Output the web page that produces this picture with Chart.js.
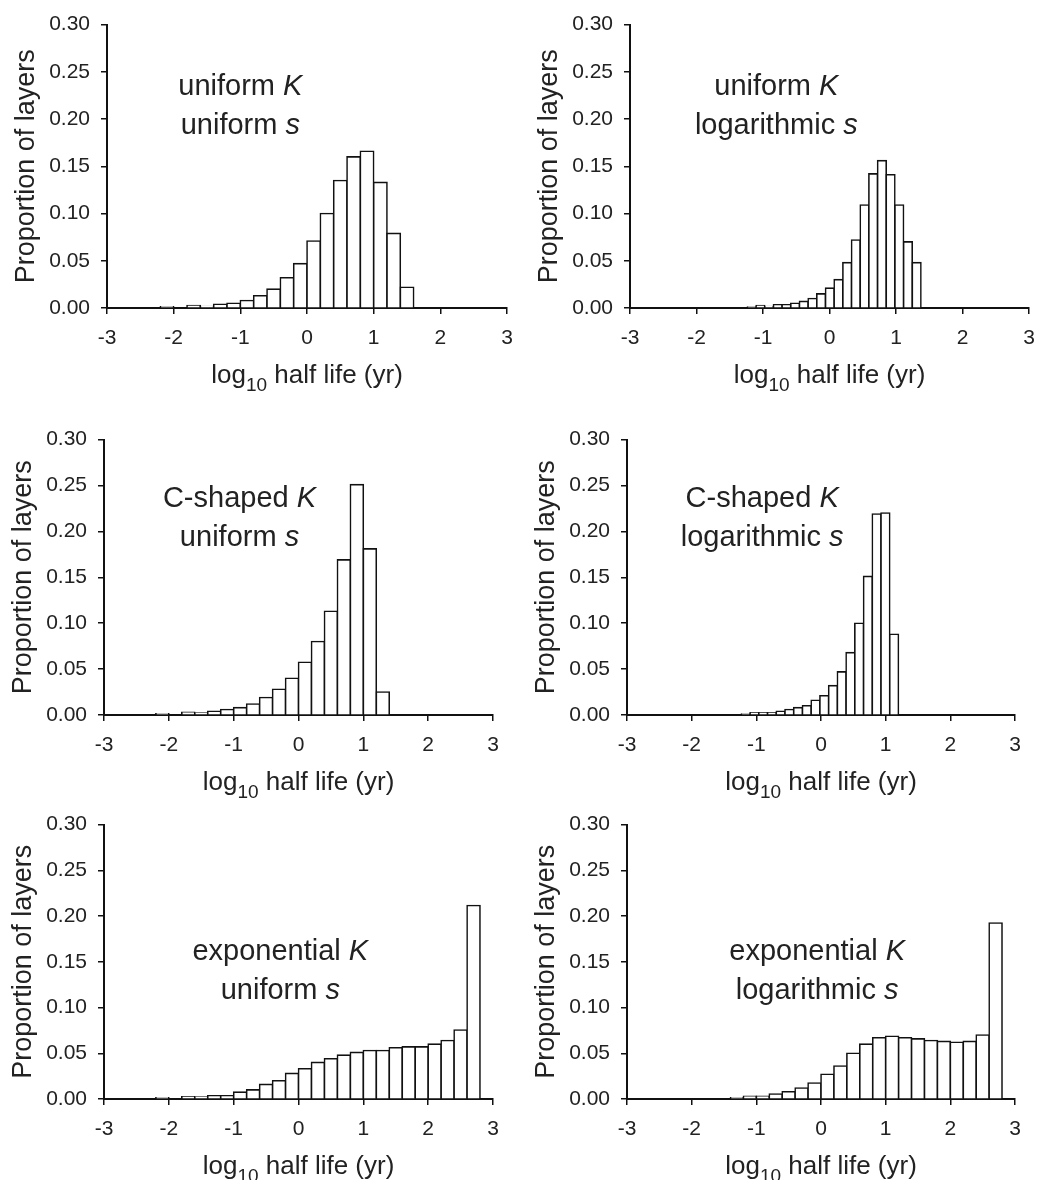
<!DOCTYPE html>
<html>
<head>
<meta charset="utf-8">
<script src="https://cdn.jsdelivr.net/npm/chart.js@4.4.1/dist/chart.umd.min.js"></script>
<style>
  html, body { margin: 0; padding: 0; background: #fff; overflow: hidden; }
  #fig { position: relative; width: 1037px; height: 1180px; overflow: hidden; background: #fff; }
  #fig canvas { position: absolute; }
</style>
</head>
<body>
<div id="fig"></div>
<script>
// ── Data ─────────────────────────────────────────────────────────────────────

// axis ticks shared by all six panels
const X_TICKS = [-3, -2, -1, 0, 1, 2, 3];
const Y_TICKS = [0, 0.05, 0.10, 0.15, 0.20, 0.25, 0.30];

// bin centres, log10 half life (yr)
const binsUniformK   = [-2.1, -1.9, -1.7, -1.5, -1.3, -1.1, -0.9, -0.7, -0.5, -0.3,
                        -0.1, 0.1, 0.3, 0.5, 0.7, 0.9, 1.1, 1.3, 1.5];
const binsUniformKLog = [-1.170, -1.039, -0.909, -0.778, -0.648, -0.517, -0.387, -0.256,
                         -0.126, 0.005, 0.135, 0.266, 0.396, 0.527, 0.657, 0.788,
                         0.918, 1.049, 1.179, 1.310];
const binsCShapedK   = [-2.1, -1.9, -1.7, -1.5, -1.3, -1.1, -0.9, -0.7, -0.5, -0.3,
                        -0.1, 0.1, 0.3, 0.5, 0.7, 0.9, 1.1, 1.3];
const binsCShapedKLog = [-1.1645, -1.0295, -0.8945, -0.7595, -0.6245, -0.4895, -0.3545,
                         -0.2195, -0.0845, 0.0505, 0.1855, 0.3205, 0.4555, 0.5905,
                         0.7255, 0.8605, 0.9955, 1.1305];
const binsExpK       = [-2.1, -1.9, -1.7, -1.5, -1.3, -1.1, -0.9, -0.7, -0.5, -0.3,
                        -0.1, 0.1, 0.3, 0.5, 0.7, 0.9, 1.1, 1.3, 1.5, 1.7, 1.9,
                        2.1, 2.3, 2.5, 2.7];
const binsExpKLog    = [-1.3, -1.1, -0.9, -0.7, -0.5, -0.3, -0.1, 0.1, 0.3, 0.5, 0.7,
                        0.9, 1.1, 1.3, 1.5, 1.7, 1.9, 2.1, 2.3, 2.5, 2.7];

// proportion of layers in each bin
const propUniformKUniformS = [0.0014, 0, 0.0025, 0.0015, 0.004, 0.005, 0.008, 0.013, 0.020,
                              0.032, 0.047, 0.071, 0.100, 0.135, 0.160, 0.166, 0.133,
                              0.079, 0.022];
const propUniformKLogS     = [0.001, 0.0025, 0.0015, 0.0035, 0.0035, 0.005, 0.007, 0.010,
                              0.015, 0.021, 0.030, 0.048, 0.072, 0.109, 0.142, 0.156,
                              0.141, 0.109, 0.070, 0.048];
const propCShapedKUniformS = [0.0014, 0, 0.003, 0.002, 0.004, 0.006, 0.008, 0.012, 0.019,
                              0.028, 0.040, 0.0575, 0.080, 0.113, 0.169, 0.251, 0.181,
                              0.025];
const propCShapedKLogS     = [0.001, 0.0025, 0.0025, 0.0025, 0.004, 0.006, 0.008, 0.010,
                              0.016, 0.021, 0.032, 0.047, 0.068, 0.100, 0.151, 0.219,
                              0.220, 0.088];
const propExpKUniformS     = [0.0014, 0, 0.0025, 0.002, 0.0036, 0.0036, 0.0075, 0.010,
                              0.016, 0.020, 0.028, 0.033, 0.040, 0.044, 0.048, 0.051,
                              0.053, 0.053, 0.056, 0.057, 0.057, 0.060, 0.064, 0.0755,
                              0.2115];
const propExpKLogS         = [0.0014, 0.003, 0.003, 0.0054, 0.008, 0.012, 0.0175, 0.027,
                              0.036, 0.050, 0.060, 0.067, 0.0686, 0.067, 0.0657, 0.064,
                              0.063, 0.062, 0.063, 0.070, 0.1925];

// ── Styling / layout ─────────────────────────────────────────────────────────

const FONT  = "'Liberation Sans', Arial, Helvetica, sans-serif";
const INK   = '#111';
const TEXT  = '#222';
const AX_W  = 100;   // room left of the plot for ticks + y title
const AX_H  = 90;    // room under the plot for ticks + x title
const PAD_T = 20;
const PAD_R = 22;    // must cover half the last x label + tick padding
const BAR_LINE = 1.6;

Chart.defaults.font.family = FONT;
Chart.defaults.color = TEXT;

const panels = [
  { area: { l: 107, r: 507,  t: 21,  b: 308 },  bins: binsUniformK,    values: propUniformKUniformS,
    caption: [['uniform ', 'K'], ['uniform ', 's']],          at: { x: -1.0,  y: [0.2252, 0.1845] } },
  { area: { l: 630, r: 1029, t: 21,  b: 308 },  bins: binsUniformKLog, values: propUniformKLogS,
    caption: [['uniform ', 'K'], ['logarithmic ', 's']],      at: { x: -0.80, y: [0.2252, 0.1845] } },
  { area: { l: 104, r: 493,  t: 436, b: 715 },  bins: binsCShapedK,    values: propCShapedKUniformS,
    caption: [['C-shaped ', 'K'], ['uniform ', 's']],         at: { x: -0.91, y: [0.2269, 0.1839] } },
  { area: { l: 627, r: 1015, t: 436, b: 715 },  bins: binsCShapedKLog, values: propCShapedKLogS,
    caption: [['C-shaped ', 'K'], ['logarithmic ', 's']],     at: { x: -0.91, y: [0.2269, 0.1839] } },
  { area: { l: 104, r: 493,  t: 821, b: 1099 }, bins: binsExpK,        values: propExpKUniformS,
    caption: [['exponential ', 'K'], ['uniform ', 's']],      at: { x: -0.28, y: [0.152, 0.109] } },
  { area: { l: 627, r: 1015, t: 821, b: 1099 }, bins: binsExpKLog,     values: propExpKLogS,
    caption: [['exponential ', 'K'], ['logarithmic ', 's']],  at: { x: -0.06, y: [0.152, 0.109] } }
];

// caption (normal + italic symbol) and the x title with its subscript
function decorPlugin(p) {
  return {
    id: 'decor',
    afterDraw(chart) {
      const { ctx, chartArea, scales } = chart;
      ctx.save();
      ctx.fillStyle = TEXT;
      ctx.textBaseline = 'alphabetic';
      ctx.textAlign = 'left';

      const cx = scales.x.getPixelForValue(p.at.x);
      p.caption.forEach(([plain, sym], i) => {
        const y = scales.y.getPixelForValue(p.at.y[i]);
        ctx.font = `29px ${FONT}`;
        const w1 = ctx.measureText(plain).width;
        ctx.font = `italic 29px ${FONT}`;
        const w2 = ctx.measureText(sym).width;
        const x0 = cx - (w1 + w2) / 2;
        ctx.font = `29px ${FONT}`;
        ctx.fillText(plain, x0, y);
        ctx.font = `italic 29px ${FONT}`;
        ctx.fillText(sym, x0 + w1, y);
      });

      const main = `26px ${FONT}`, sub = `19px ${FONT}`;
      ctx.font = main;
      const wa = ctx.measureText('log').width;
      const wc = ctx.measureText(' half life (yr)').width;
      ctx.font = sub;
      const wb = ctx.measureText('10').width;
      const by = chartArea.bottom + 75;
      let x = (chartArea.left + chartArea.right) / 2 - (wa + wb + wc) / 2;
      ctx.font = main; ctx.fillText('log', x, by); x += wa;
      ctx.font = sub;  ctx.fillText('10', x, by + 8); x += wb;
      ctx.font = main; ctx.fillText(' half life (yr)', x, by);
      ctx.restore();
    }
  };
}

const fig = document.getElementById('fig');

panels.forEach(p => {
  const { l, r, t, b } = p.area;
  const canvas = document.createElement('canvas');
  const w = (r - l) + AX_W + PAD_R;
  const h = (b - t) + PAD_T + AX_H;
  canvas.width = w;
  canvas.height = h;
  canvas.style.left = (l - AX_W) + 'px';
  canvas.style.top = (t - PAD_T) + 'px';
  canvas.style.width = w + 'px';
  canvas.style.height = h + 'px';
  fig.appendChild(canvas);

  new Chart(canvas, {
    type: 'bar',
    data: {
      datasets: [{
        data: p.bins.map((x, i) => ({ x, y: p.values[i] })),
        backgroundColor: '#fff',
        borderColor: INK,
        borderWidth: BAR_LINE,
        borderSkipped: 'start',
        inflateAmount: BAR_LINE / 2,
        barPercentage: 1,
        categoryPercentage: 1
      }]
    },
    options: {
      responsive: false,
      animation: false,
      layout: { padding: { top: PAD_T, right: PAD_R, left: 0, bottom: 0 } },
      plugins: { legend: { display: false }, tooltip: { enabled: false } },
      scales: {
        x: {
          type: 'linear',
          offset: false,
          z: 1,
          min: X_TICKS[0],
          max: X_TICKS[X_TICKS.length - 1],
          afterBuildTicks: s => { s.ticks = X_TICKS.map(v => ({ value: v })); },
          afterFit: s => { s.height = AX_H; },
          ticks: {
            color: TEXT, font: { size: 21 }, padding: 12, maxRotation: 0,
            autoSkip: false, callback: v => String(v)
          },
          grid: { offset: false, drawOnChartArea: false, drawTicks: true, tickLength: 6, color: INK, lineWidth: 1.5 },
          border: { display: true, color: INK, width: 2 }
        },
        y: {
          type: 'linear',
          z: 1,
          min: Y_TICKS[0],
          max: Y_TICKS[Y_TICKS.length - 1],
          afterBuildTicks: s => { s.ticks = Y_TICKS.map(v => ({ value: v })); },
          afterFit: s => { s.width = AX_W; },
          ticks: {
            color: TEXT, font: { size: 21 }, padding: 11,
            autoSkip: false, callback: v => Number(v).toFixed(2)
          },
          grid: { drawOnChartArea: false, drawTicks: true, tickLength: 6, color: INK, lineWidth: 1.5 },
          border: { display: true, color: INK, width: 2 },
          title: {
            display: true, text: 'Proportion of layers', color: TEXT,
            font: { size: 27 }, padding: { top: 3, bottom: 0 }
          }
        }
      }
    },
    plugins: [decorPlugin(p)]
  });
});
</script>
</body>
</html>
